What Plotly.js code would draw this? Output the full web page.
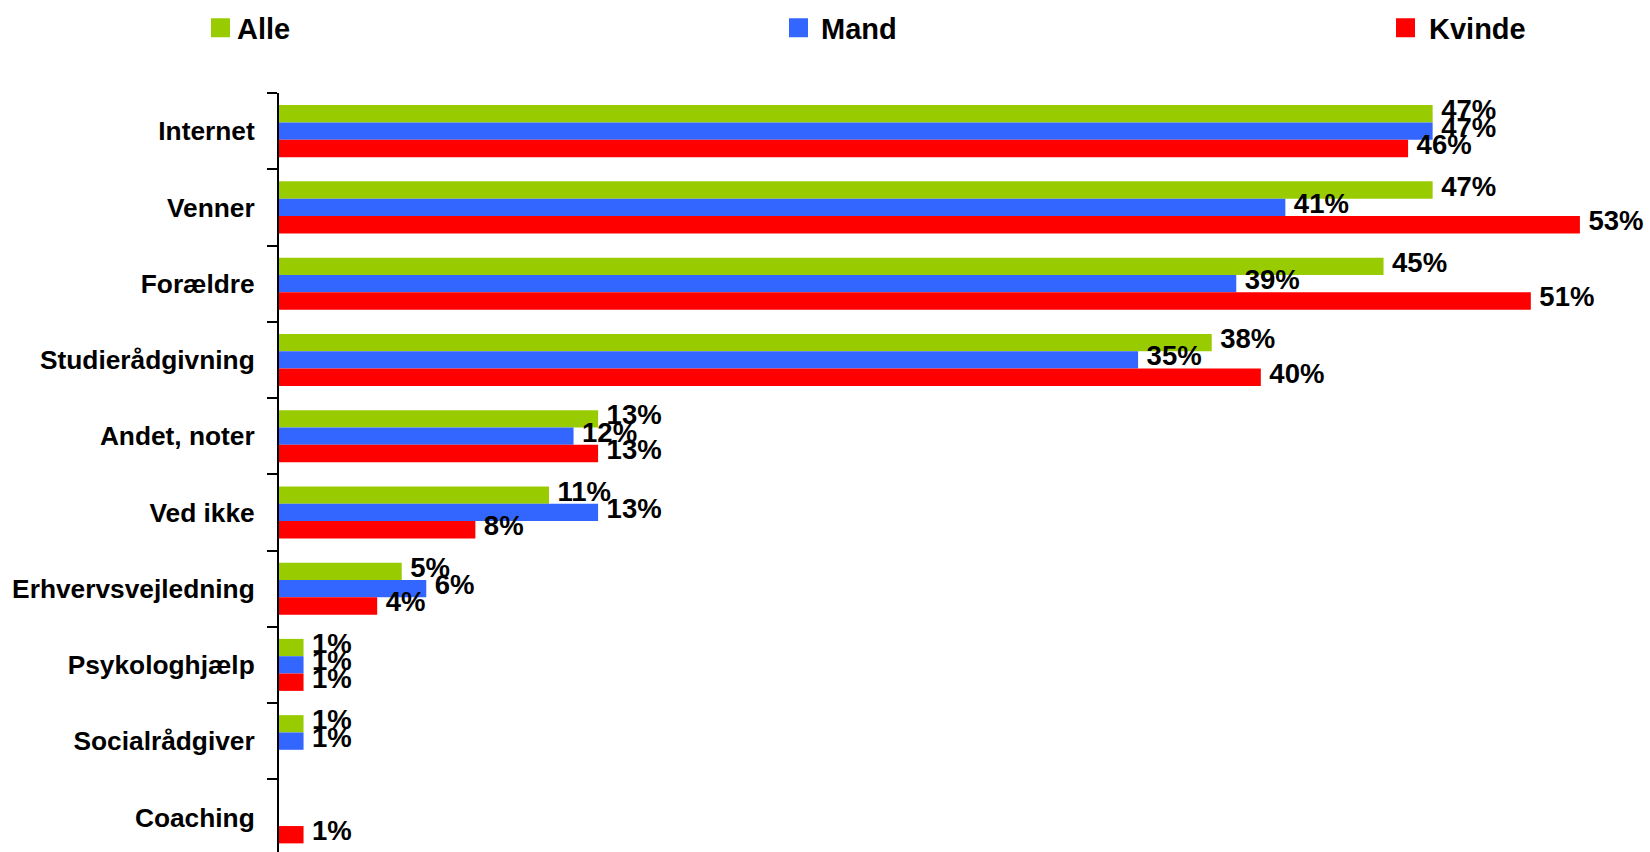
<!DOCTYPE html>
<html>
<head>
<meta charset="utf-8">
<script src="https://cdn.plot.ly/plotly-3.0.1.min.js"></script>
<style>
  html, body { margin: 0; padding: 0; background: #ffffff; overflow: hidden; }
  #chart { width: 1650px; height: 852px; }
</style>
</head>
<body>
<div id="chart"></div>
<script>
// Categories (top to bottom)
const categories = ['Internet', 'Venner', 'Forældre', 'Studierådgivning', 'Andet, noter',
                    'Ved ikke', 'Erhvervsvejledning', 'Psykologhjælp', 'Socialrådgiver', 'Coaching'];

// Series values (percent)
const alle   = [47, 47, 45, 38, 13, 11, 5, 1, 1, null];
const mand   = [47, 41, 39, 35, 12, 13, 6, 1, 1, null];
const kvinde = [46, 53, 51, 40, 13, 8, 4, 1, null, 1];

const seriesNames = ['Alle', 'Mand', 'Kvinde'];

const FONT = 'Liberation Sans, Arial, Helvetica, sans-serif';

function barTrace(name, values, color, legendId) {
  return {
    type: 'bar',
    orientation: 'h',
    name: name,
    x: values,
    y: categories,
    marker: { color: color, line: { width: 0 } },
    texttemplate: '\u2009%{x:.0f}%',
    textposition: 'outside',
    constraintext: 'none',
    cliponaxis: false,
    textfont: { family: FONT, size: 27.5, color: '#000000', weight: 'bold' },
    hoverinfo: 'x+y+name',
    legend: legendId
  };
}

const data = [
  barTrace(seriesNames[0], alle, '#99CC00', 'legend'),
  barTrace(seriesNames[1], mand, '#3366FF', 'legend2'),
  barTrace(seriesNames[2], kvinde, '#FF0000', 'legend3')
];

const legendBase = {
  orientation: 'h',
  xref: 'container', yref: 'container',
  xanchor: 'left', yanchor: 'middle',
  y: 1 - 28 / 852,
  bgcolor: 'rgba(0,0,0,0)',
  borderwidth: 0,
  font: { family: FONT, size: 29, color: '#000000', weight: 'bold' }
};

const layout = {
  width: 1650,
  height: 852,
  margin: { l: 279, r: 21, t: 93, b: 0, pad: 0 },
  paper_bgcolor: '#ffffff',
  plot_bgcolor: '#ffffff',
  barmode: 'group',
  bargap: 0.318,
  bargroupgap: 0,
  showlegend: true,
  legend:  Object.assign({}, legendBase, { x: 197 / 1650 }),
  legend2: Object.assign({}, legendBase, { x: 781 / 1650 }),
  legend3: Object.assign({}, legendBase, { x: 1389 / 1650 }),
  xaxis: {
    range: [0, 55],
    visible: false,
    showgrid: false,
    zeroline: false,
    fixedrange: true
  },
  yaxis: {
    type: 'category',
    range: [9.454, -0.5],
    showline: true,
    linecolor: '#000000',
    linewidth: 2,
    ticks: 'outside',
    tickson: 'boundaries',
    ticklen: 10,
    tickwidth: 2,
    tickcolor: '#000000',
    ticklabelstandoff: 17,
    showgrid: false,
    zeroline: false,
    tickfont: { family: FONT, size: 26.3, color: '#000000', weight: 'bold' },
    fixedrange: true
  },
  font: { family: FONT, color: '#000000' }
};

Plotly.newPlot('chart', data, layout, { displayModeBar: false, staticPlot: true }).then(function () {
  // reshape the legend swatches to match the reference squares
  const swatch = { 'legend': 'M13,9.5H-6V-9.5H13Z', 'legend2': 'M7,9.5H-12V-9.5H7Z', 'legend3': 'M6,9.5H-13V-9.5H6Z' };
  Object.keys(swatch).forEach(function (cls) {
    document.querySelectorAll('g.' + cls + ' .legendpoints path').forEach(function (p) {
      p.setAttribute('d', swatch[cls]);
    });
  });
  // value labels sit slightly above the bar centre in the reference
  document.querySelectorAll('text.bartext').forEach(function (t) {
    const tr = t.getAttribute('transform') || '';
    t.setAttribute('transform', 'translate(0,-4) ' + tr);
  });
});
</script>
</body>
</html>
